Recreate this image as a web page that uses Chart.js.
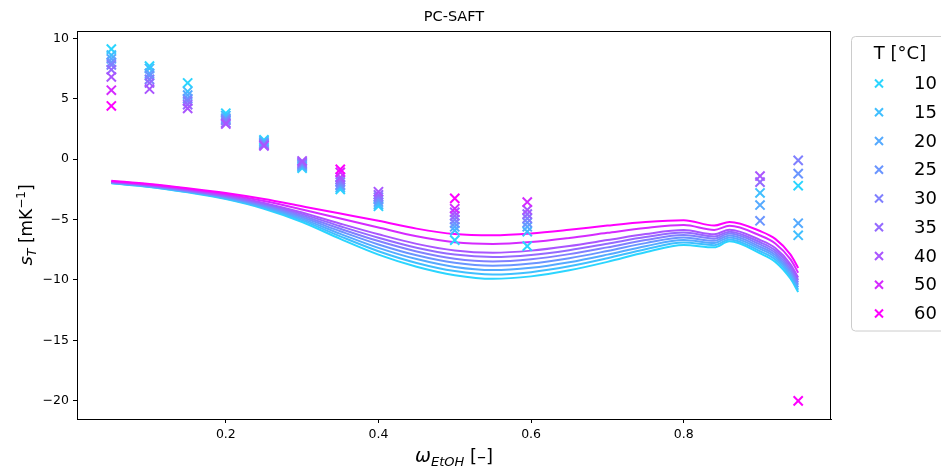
<!DOCTYPE html>
<html>
<head>
<meta charset="utf-8">
<script src="https://cdn.jsdelivr.net/npm/chart.js@4.4.1/dist/chart.umd.min.js"></script>
<style>
  html, body { margin: 0; padding: 0; background: #fff; }
</style>
</head>
<body>
<canvas id="myChart" width="941" height="470"></canvas>
<script>
// temperatures [°C]
const temps = [10, 15, 20, 25, 30, 35, 40, 50, 60];

// PC-SAFT model curves (s_T vs omega_EtOH)
const modelX = [0.05, 0.1, 0.15, 0.2, 0.25, 0.3, 0.35, 0.4, 0.45, 0.5, 0.55, 0.6, 0.65, 0.7, 0.75, 0.8, 0.84, 0.86, 0.9, 0.92, 0.94, 0.95];
const model10 = [-2.0, -2.3, -2.75, -3.3, -4.1, -5.2, -6.6, -7.9, -8.9, -9.6, -9.9, -9.7, -9.2, -8.5, -7.7, -7.1, -7.3, -6.8, -7.8, -8.5, -9.9, -11.0];
const model15 = [-1.98, -2.28, -2.72, -3.25, -4.02, -5.07, -6.39, -7.62, -8.59, -9.26, -9.54, -9.35, -8.87, -8.2, -7.45, -6.9, -7.12, -6.64, -7.62, -8.31, -9.7, -10.8];
const model20 = [-1.96, -2.25, -2.68, -3.2, -3.94, -4.94, -6.18, -7.34, -8.27, -8.92, -9.18, -8.99, -8.53, -7.9, -7.2, -6.69, -6.94, -6.48, -7.43, -8.12, -9.5, -10.6];
const model25 = [-1.93, -2.23, -2.65, -3.15, -3.86, -4.81, -5.97, -7.06, -7.96, -8.58, -8.82, -8.64, -8.2, -7.6, -6.95, -6.49, -6.76, -6.32, -7.25, -7.93, -9.3, -10.4];
const model30 = [-1.91, -2.2, -2.61, -3.1, -3.78, -4.68, -5.76, -6.78, -7.64, -8.24, -8.46, -8.28, -7.86, -7.3, -6.7, -6.28, -6.58, -6.16, -7.06, -7.74, -9.1, -10.2];
const model35 = [-1.89, -2.18, -2.58, -3.05, -3.7, -4.55, -5.55, -6.5, -7.33, -7.9, -8.1, -7.93, -7.53, -7.0, -6.45, -6.08, -6.4, -6.0, -6.88, -7.55, -8.9, -10.0];
const model40 = [-1.87, -2.15, -2.54, -3.0, -3.62, -4.42, -5.34, -6.22, -7.01, -7.56, -7.74, -7.57, -7.19, -6.7, -6.2, -5.87, -6.22, -5.84, -6.69, -7.36, -8.7, -9.8];
const model50 = [-1.82, -2.1, -2.47, -2.9, -3.46, -4.16, -4.92, -5.66, -6.38, -6.88, -7.02, -6.86, -6.52, -6.1, -5.7, -5.46, -5.86, -5.52, -6.32, -6.98, -8.3, -9.4];
const model60 = [-1.78, -2.05, -2.4, -2.8, -3.3, -3.9, -4.5, -5.1, -5.75, -6.2, -6.3, -6.15, -5.85, -5.5, -5.2, -5.05, -5.5, -5.2, -5.95, -6.6, -7.9, -9.0];

// experimental points (null = not measured)
const expX = [0.05, 0.1, 0.15, 0.2, 0.25, 0.3, 0.35, 0.4, 0.5, 0.595, 0.9, 0.95];
const exp10 = [9.1, 7.7, 6.3, 3.8, 1.6, -0.75, -2.5, -3.9, -6.7, -7.2, null, -2.2];
const exp15 = [8.6, 7.5, 5.6, 3.6, 1.5, -0.65, -2.35, -3.75, -5.9, -6.0, -2.8, -6.3];
const exp20 = [8.3, 7.1, 5.3, 3.4, 1.4, -0.55, -2.2, -3.55, -5.6, -5.6, -3.8, -5.3];
const exp25 = [8.0, 6.9, 5.0, 3.3, 1.3, -0.45, -2.1, -3.35, -5.3, -5.25, -5.1, -1.2];
const exp30 = [7.8, 6.6, 4.8, 3.2, 1.2, -0.35, -1.9, -3.15, -5.0, -4.9, null, -0.1];
const exp35 = [7.4, 6.3, 4.5, 3.0, 1.15, -0.25, -1.7, -2.95, -4.7, -4.55, -1.9, null];
const exp40 = [6.8, 5.8, 4.2, 2.9, 1.1, -0.15, -1.5, -2.7, -4.4, -4.2, -1.4, null];
const exp50 = [5.7, null, null, null, null, null, -1.1, null, -4.1, -3.55, null, null];
const exp60 = [4.4, null, null, null, null, null, -0.85, null, -3.25, null, null, -20.0];

const xTicks = [0.2, 0.4, 0.6, 0.8];
const yTicks = [-20, -15, -10, -5, 0, 5, 10];

const models = [model10, model15, model20, model25, model30, model35, model40, model50, model60];
const exps = [exp10, exp15, exp20, exp25, exp30, exp35, exp40, exp50, exp60];

// matplotlib "cool" colormap at T/60
function cool(t) {
    var f = t / 60;
    return 'rgb(' + Math.round(255 * f) + ',' + Math.round(255 * (1 - f)) + ',255)';
}

var datasets = [];
temps.forEach(function (t, i) {
    datasets.push({
        type: 'line',
        data: modelX.map(function (x, j) { return { x: x, y: models[i][j] }; }),
        borderColor: cool(t),
        borderWidth: 2,
        pointRadius: 0,
        fill: false,
        cubicInterpolationMode: 'monotone',
        order: 100 - i
    });
});
temps.forEach(function (t, i) {
    var pts = [];
    expX.forEach(function (x, j) {
        if (exps[i][j] !== null) pts.push({ x: x, y: exps[i][j] });
    });
    datasets.push({
        type: 'scatter',
        label: String(t),
        data: pts,
        pointStyle: 'crossRot',
        pointRadius: 6.5,
        borderWidth: 2,
        borderColor: cool(t),
        backgroundColor: cool(t),
        order: 50 - i
    });
});

function drawRuns(ctx, runs) {
    var total = 0;
    runs.forEach(function (r) { ctx.font = r.f; r.w = ctx.measureText(r.t).width; total += r.w; });
    var x = -total / 2;
    runs.forEach(function (r) {
        ctx.font = r.f;
        ctx.fillText(r.t, x, r.dy || 0);
        x += r.w;
    });
}

const extras = {
    id: 'extras',
    afterDraw: function (chart) {
        var ctx = chart.ctx, a = chart.chartArea;
        ctx.save();
        // frame
        ctx.strokeStyle = '#000';
        ctx.lineWidth = 1;
        ctx.strokeRect(a.left + 0.5, a.top + 0.5, a.right - a.left - 1, a.bottom - a.top);

        ctx.fillStyle = '#000';
        ctx.textAlign = 'center';
        ctx.textBaseline = 'middle';
        ctx.font = '14.5px "DejaVu Sans"';
        ctx.fillText('PC-SAFT', (a.left + a.right) / 2, 17);

        // x title
        ctx.textAlign = 'left';
        ctx.textBaseline = 'alphabetic';
        ctx.save();
        ctx.translate((a.left + a.right) / 2, 462);
        drawRuns(ctx, [
            { t: 'ω', f: 'italic 19px "DejaVu Sans"' },
            { t: 'EtOH', f: 'italic 13px "DejaVu Sans"', dy: 4 },
            { t: ' [–]', f: '18px "DejaVu Sans"' }
        ]);
        ctx.restore();

        // y title
        ctx.save();
        ctx.translate(32, (a.top + a.bottom) / 2);
        ctx.rotate(-Math.PI / 2);
        drawRuns(ctx, [
            { t: 's', f: 'italic 18px "DejaVu Sans"' },
            { t: 'T', f: 'italic 12.5px "DejaVu Sans"', dy: 4 },
            { t: ' [mK', f: '17px "DejaVu Sans"' },
            { t: '−1', f: '12px "DejaVu Sans"', dy: -7 },
            { t: ']', f: '17px "DejaVu Sans"' }
        ]);
        ctx.restore();

        // legend
        var lx = 851.5, ly = 36.5, lw = 110, lh = 294.5, rr = 4;
        ctx.beginPath();
        ctx.moveTo(lx + rr, ly);
        ctx.lineTo(lx + lw - rr, ly);
        ctx.arcTo(lx + lw, ly, lx + lw, ly + rr, rr);
        ctx.lineTo(lx + lw, ly + lh - rr);
        ctx.arcTo(lx + lw, ly + lh, lx + lw - rr, ly + lh, rr);
        ctx.lineTo(lx + rr, ly + lh);
        ctx.arcTo(lx, ly + lh, lx, ly + lh - rr, rr);
        ctx.lineTo(lx, ly + rr);
        ctx.arcTo(lx, ly, lx + rr, ly, rr);
        ctx.closePath();
        ctx.fillStyle = 'rgba(255,255,255,0.8)';
        ctx.fill();
        ctx.strokeStyle = '#cccccc';
        ctx.stroke();

        ctx.fillStyle = '#000';
        ctx.textAlign = 'center';
        ctx.textBaseline = 'middle';
        ctx.font = '18px "DejaVu Sans"';
        ctx.fillText('T [°C]', 900, 54);
        ctx.textAlign = 'left';
        temps.forEach(function (t, i) {
            var y = 83.5 + i * 28.75;
            var c = cool(t);
            ctx.strokeStyle = c;
            ctx.lineWidth = 2;
            ctx.beginPath();
            ctx.moveTo(875, y - 4); ctx.lineTo(883, y + 4);
            ctx.moveTo(875, y + 4); ctx.lineTo(883, y - 4);
            ctx.stroke();
            ctx.fillStyle = '#000';
            ctx.fillText(String(t), 914, y + 1);
        });
        ctx.restore();
    }
};

const tickFont = { family: 'DejaVu Sans', size: 12.5 };

new Chart(document.getElementById('myChart'), {
    data: { datasets: datasets },
    options: {
        responsive: false,
        animation: false,
        devicePixelRatio: 1,
        events: [],
        layout: { padding: { left: 0, right: 110, top: 31, bottom: 0 } },
        plugins: { legend: { display: false }, title: { display: false }, tooltip: { enabled: false } },
        scales: {
            x: {
                type: 'linear',
                min: 0.005,
                max: 0.993,
                afterBuildTicks: function (s) { s.ticks = xTicks.map(function (v) { return { value: v }; }); },
                afterFit: function (s) { s.height = 51; },
                ticks: {
                    callback: function (v) { return v.toFixed(1); },
                    font: tickFont, color: '#000', padding: 4, maxRotation: 0, autoSkip: false
                },
                grid: { drawOnChartArea: false, tickLength: 4, color: '#000' },
                border: { color: '#000', width: 1 }
            },
            y: {
                type: 'linear',
                min: -21.5,
                max: 10.6,
                afterBuildTicks: function (s) { s.ticks = yTicks.map(function (v) { return { value: v }; }); },
                afterFit: function (s) { s.width = 77; },
                ticks: {
                    callback: function (v) { return v < 0 ? '−' + Math.abs(v) : String(v); },
                    font: tickFont, color: '#000', padding: 4, autoSkip: false
                },
                grid: { drawOnChartArea: false, tickLength: 4, color: '#000' },
                border: { color: '#000', width: 1 }
            }
        }
    },
    plugins: [extras]
});
</script>
</body>
</html>
